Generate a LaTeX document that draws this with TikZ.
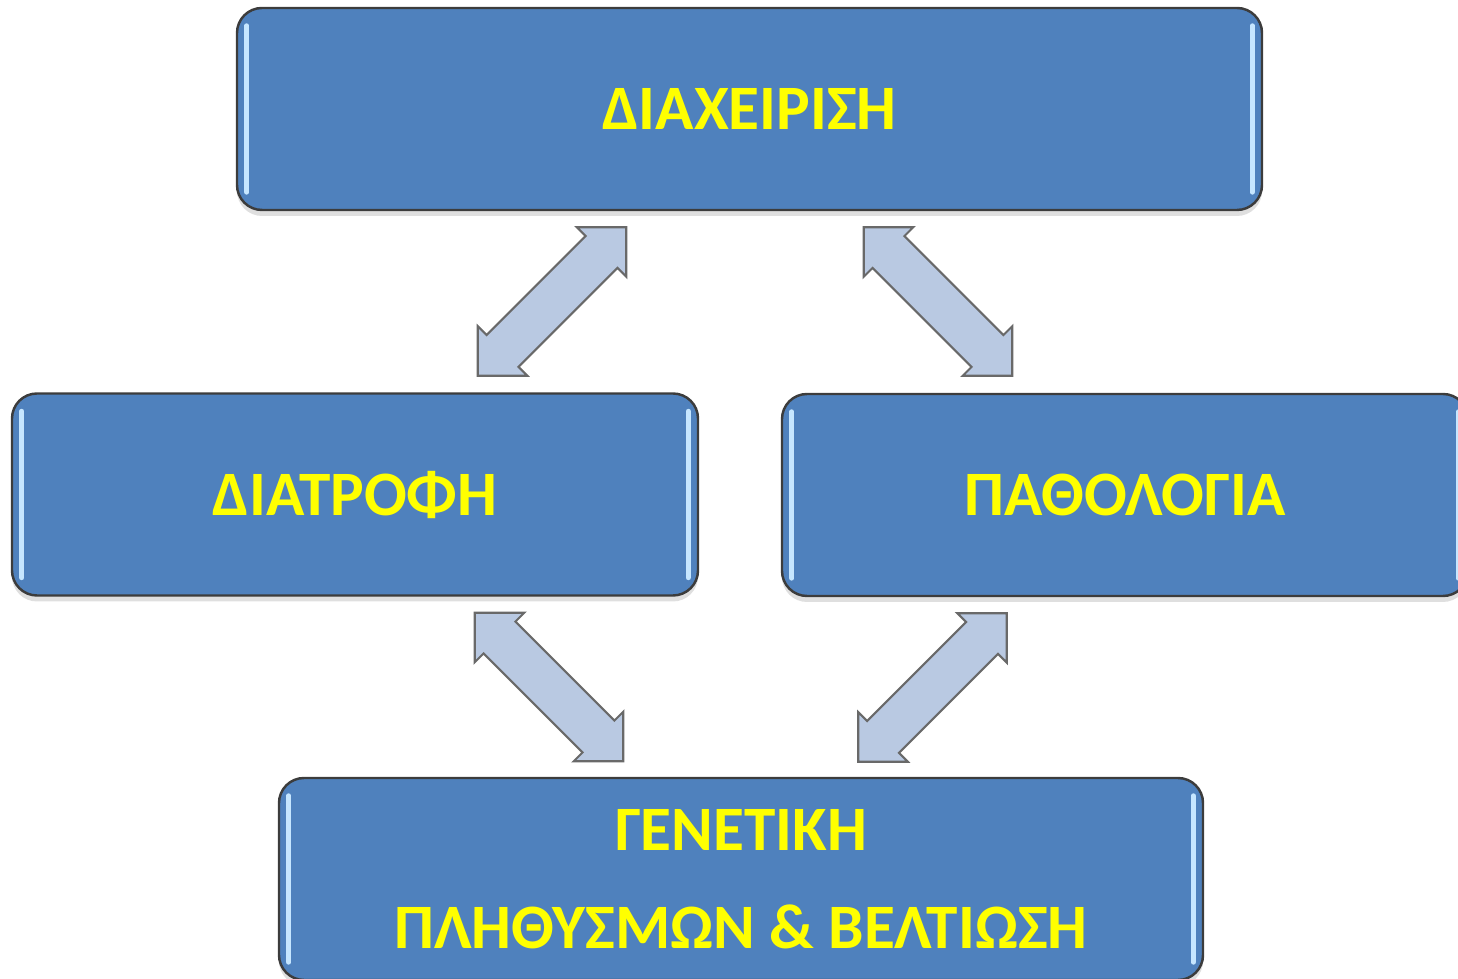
\documentclass[tikz,border=0pt]{standalone}
\usepackage{fontspec}
\setmainfont{Carlito}
\usepackage{xcolor}
\usepackage{tikz}
\usetikzlibrary{positioning, shadows}
\definecolor{boxblue}{RGB}{79,129,189}
\definecolor{boxline}{RGB}{60,60,60}
\definecolor{glossblue}{RGB}{198,230,255}
\definecolor{arrowfill}{RGB}{185,201,226}
\definecolor{arrowline}{RGB}{105,105,105}
\definecolor{txtyellow}{RGB}{255,255,0}
\tikzset{
    box/.style={draw=boxline, line width=0.7pt, fill=boxblue, rounded corners=0.25cm,
        minimum height=2.02cm, inner sep=0pt, text=txtyellow,
        font=\fontsize{18}{22}\selectfont\bfseries,
        drop shadow={shadow xshift=0pt, shadow yshift=-0.6mm, opacity=0.25}},
    gloss/.style={line width=1.4pt, glossblue, line cap=round},
    biarrow/.style={draw=arrowline, line width=0.6pt, fill=arrowfill, line join=miter}
}
% double headed block arrow at a coordinate, turned by an angle
\newcommand{\twoway}[2]{%
    \begin{scope}[shift={(#1)}, rotate=#2]
    \draw[biarrow] (1.05,0) -- (0.70,0.35) -- (0.70,0.225) -- (-0.70,0.225) -- (-0.70,0.35)
        -- (-1.05,0) -- (-0.70,-0.35) -- (-0.70,-0.225) -- (0.70,-0.225) -- (0.70,-0.35) -- cycle;
    \end{scope}}

\begin{document}
\begin{tikzpicture}
    \useasboundingbox (0,0) rectangle (14.58,9.79);
    \clip (0,0) rectangle (14.58,9.79);
    % === BOXES ===
    \node[box, minimum width=10.25cm] (manage) at (7.495,8.70) {ΔΙΑΧΕΙΡΙΣΗ};
    \node[box, minimum width=6.86cm] (diet) at (3.55,4.845) {ΔΙΑΤΡΟΦΗ};
    \node[box, minimum width=6.86cm] (patho) at (11.25,4.84) {ΠΑΘΟΛΟΓΙΑ};
    \node[box, minimum width=9.24cm, align=center] (gene) at (7.41,1.00)
        {ΓΕΝΕΤΙΚΗ\\[6pt]ΠΛΗΘΥΣΜΩΝ \& ΒΕΛΤΙΩΣΗ};
    % glossy side stripes
    \foreach \b in {manage, diet, patho, gene} {
        \draw[gloss] ([xshift=0.11cm, yshift=-0.19cm]\b.north west) -- ([xshift=0.11cm, yshift=0.19cm]\b.south west);
        \draw[gloss] ([xshift=-0.11cm, yshift=-0.19cm]\b.north east) -- ([xshift=-0.11cm, yshift=0.19cm]\b.south east);
    }
    %
    % === ARROWS ===
    \coordinate (manage-diet) at (5.52,6.775);
    \coordinate (manage-patho) at (9.38,6.775);
    \coordinate (diet-gene) at (5.49,2.92);
    \coordinate (patho-gene) at (9.325,2.915);
    \twoway{manage-diet}{45}
    \twoway{manage-patho}{-45}
    \twoway{diet-gene}{-45}
    \twoway{patho-gene}{45}
\end{tikzpicture}
\end{document}
